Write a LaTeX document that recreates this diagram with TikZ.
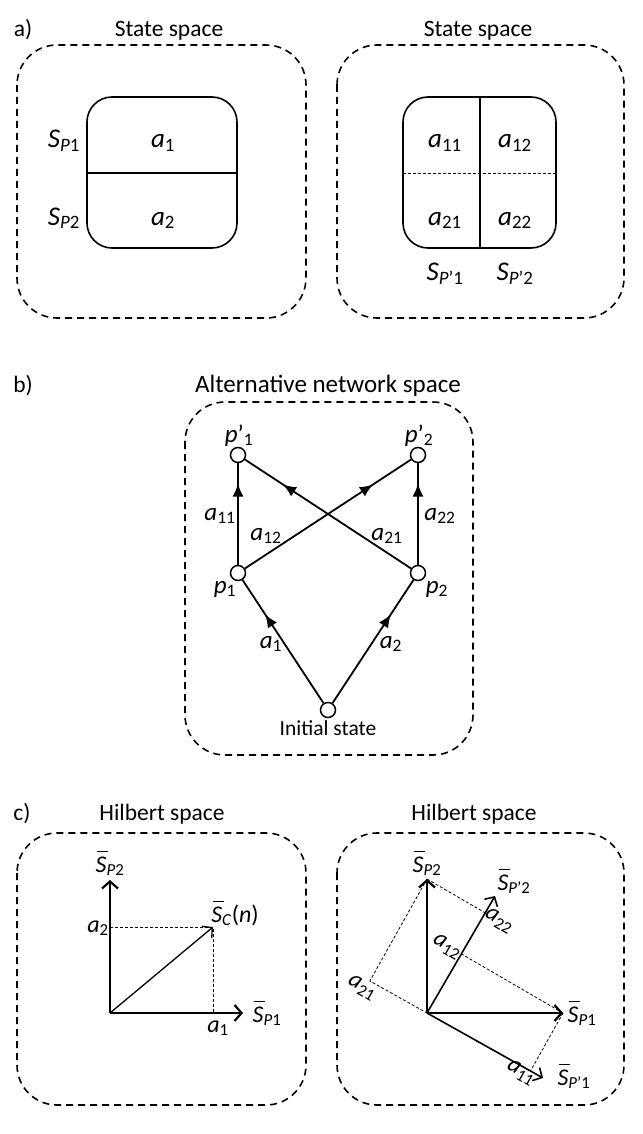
\documentclass[tikz,border=0pt]{standalone}
\usepackage{fontspec}
\setmainfont{Carlito}
\usetikzlibrary{arrows.meta,decorations.markings,calc}

\newcommand{\lo}[1]{\textsubscript{#1}}
\newcommand{\Sbar}{\leavevmode\rlap{\hspace{0.06em}\raisebox{0.84em}{\rule{0.46em}{0.045em}}}\textit{S}}

\tikzset{
  txt/.style={font=\fontsize{23.5}{28}\selectfont, inner sep=0pt, anchor=base},
  txta/.style={txt, font=\fontsize{27}{32}\selectfont},
  txtb/.style={txt, font=\fontsize{25}{30}\selectfont},
  txtc/.style={txt, font=\fontsize{24}{29}\selectfont},
  txti/.style={txt, font=\fontsize{21.5}{25}\selectfont},
  outer/.style={line width=1.6pt, dash pattern=on 7pt off 5pt, rounded corners=40pt},
  ibox/.style={line width=1.6pt, rounded corners=25pt},
  thindash/.style={line width=0.8pt, dash pattern=on 3pt off 2pt},
  st/.style={circle, draw, line width=1.5pt, minimum size=15pt, inner sep=0pt, fill=white},
  flow/.style={line width=1.8pt, postaction={decorate},
    decoration={markings, mark=at position #1 with {\arrow{Latex[length=13pt,width=11pt]}}}},
  axis/.style={line width=2.2pt, -{Straight Barb[length=7pt,width=16pt]}},
  vec/.style={line width=1.6pt, -{Straight Barb[length=7pt,width=15pt]}},
}

\begin{document}
\begin{tikzpicture}[x=1pt,y=-1pt]
\useasboundingbox (0,0) rectangle (642,1134);

% ---------------- a) ----------------
\node[txt] (la) at (23,37) {a)};
\node[txt] (t1) at (169,37) {State space};
\node[txt] (t2) at (478,37) {State space};
\draw[outer] (17,45) rectangle (306,318);
\draw[outer] (337,45) rectangle (624,318);

\draw[ibox] (87,97) rectangle (237,248);
\draw[line width=1.6pt] (87,173) -- (237,173);
\node[txta] (a1) at (163,148) {\textit{a}\lo{1}};
\node[txta] (a2) at (163,225) {\textit{a}\lo{2}};
\node[txta] (sp1) at (64,148) {\textit{S}\lo{\textit{P}1}};
\node[txta] (sp2) at (64,225) {\textit{S}\lo{\textit{P}2}};

\draw[ibox] (403,97) rectangle (556,248);
\draw[line width=1.6pt] (480,97) -- (480,248);
\draw[thindash] (403,173) -- (556,173);
\node[txta] (a11) at (445,148) {\textit{a}\lo{11}};
\node[txta] (a12) at (515,148) {\textit{a}\lo{12}};
\node[txta] (a21) at (445,225) {\textit{a}\lo{21}};
\node[txta] (a22) at (515,225) {\textit{a}\lo{22}};
\node[txta] (spp1) at (445,280) {\textit{S}\lo{\textit{P}’1}};
\node[txta] (spp2) at (515,280) {\textit{S}\lo{\textit{P}’2}};

% ---------------- b) ----------------
\node[txt] (lb) at (23,392) {b)};
\node[txtb] (t3) at (328,392) {Alternative network space};
\draw[outer] (185,402) rectangle (473,755);

\node[st] (q1) at (238,455) {};
\node[st] (q2) at (418,455) {};
\node[st] (p1) at (238,573) {};
\node[st] (p2) at (418,573) {};
\node[st] (s0) at (328,710) {};

\draw[flow=0.72] (s0) -- (p1);
\draw[flow=0.72] (s0) -- (p2);
\draw[flow=0.8] (p1) -- (q1);
\draw[flow=0.8] (p2) -- (q2);
\draw[flow=0.77] (p1) -- (q2);
\draw[flow=0.77] (p2) -- (q1);

\node[txtb] (lq1) at (239,442) {\textit{p}’\lo{1}};
\node[txtb] (lq2) at (419,442) {\textit{p}’\lo{2}};
\node[txtb] (lp1) at (225,593) {\textit{p}\lo{1}};
\node[txtb] (lp2) at (437,593) {\textit{p}\lo{2}};
\node[txti] (ls0) at (328,735) {Initial state};
\node[txtb] (e11) at (220,520) {\textit{a}\lo{11}};
\node[txtb] (e22) at (440,520) {\textit{a}\lo{22}};
\node[txtb] (e12) at (266,540) {\textit{a}\lo{12}};
\node[txtb] (e21) at (387,540) {\textit{a}\lo{21}};
\node[txtb] (e1) at (271,648) {\textit{a}\lo{1}};
\node[txtb] (e2) at (391,648) {\textit{a}\lo{2}};

% ---------------- c) ----------------
\node[txt] (lc) at (22,820) {c)};
\node[txt] (t4) at (162,820) {Hilbert space};
\node[txt] (t5) at (474,820) {Hilbert space};
\draw[outer] (17,833) rectangle (306,1105);
\draw[outer] (337,833) rectangle (624,1105);

% left
\coordinate (O) at (110,1013);
\coordinate (X1) at (243,1013);
\coordinate (Y1) at (110,880);
\coordinate (C) at (213,927);
\draw[thindash] (C -| O) -- (C) -- (C |- O);
\draw[axis] (O) -- (Y1);
\draw[axis] (O) -- (X1);
\draw[vec, line width=1.3pt] (O) -- (C);
\node[txtc] (ly1) at (110,872) {\Sbar\lo{\textit{P}2}};
\node[txtc] (lx1) at (267,1022) {\Sbar\lo{\textit{P}1}};
\node[txtc] (lc1) at (235,922) {\Sbar\lo{\textit{C}}(\textit{n})};
\node[txtc] (la2) at (98,932) {\textit{a}\lo{2}};
\node[txtc] (la1) at (218,1032) {\textit{a}\lo{1}};

% right
\coordinate (R) at (427,1013);
\coordinate (RX) at (563,1013);
\coordinate (RY) at (427,879);
\coordinate (RU) at (543,1078);
\coordinate (RV) at (495,896);
\coordinate (pa22) at ($(R)!(RY)!(RV)$);
\coordinate (pa21) at ($(R)!(RY)!(RU)$);
\coordinate (pa12) at ($(R)!(RX)!(RV)$);
\coordinate (pa11) at ($(R)!(RX)!(RU)$);
\draw[thindash] (RY) -- (pa22);
\draw[thindash] (RY) -- (pa21) -- (R);
\draw[thindash] (RX) -- (pa12);
\draw[thindash] (RX) -- (pa11);
\draw[axis] (R) -- (RY);
\draw[axis] (R) -- (RX);
\draw[vec] (R) -- (RU);
\draw[vec] (R) -- (RV);
\node[txtc] (ry) at (427,872) {\Sbar\lo{\textit{P}2}};
\node[txtc] (rx) at (582,1022) {\Sbar\lo{\textit{P}1}};
\node[txtc] (rv) at (514,890) {\Sbar\lo{\textit{P}’2}};
\node[txtc] (ru) at (574,1085) {\Sbar\lo{\textit{P}’1}};
\node[txtc, anchor=center, rotate=-30] (r22) at (499,921) {\textit{a}\lo{22}};
\node[txtc, anchor=center, rotate=-30] (r12) at (447,947) {\textit{a}\lo{12}};
\node[txtc, anchor=center, rotate=-30] (r21) at (362,988) {\textit{a}\lo{21}};
\node[txtc, anchor=center, rotate=-30] (r11) at (521,1073) {\textit{a}\lo{11}};
\end{tikzpicture}
\end{document}
